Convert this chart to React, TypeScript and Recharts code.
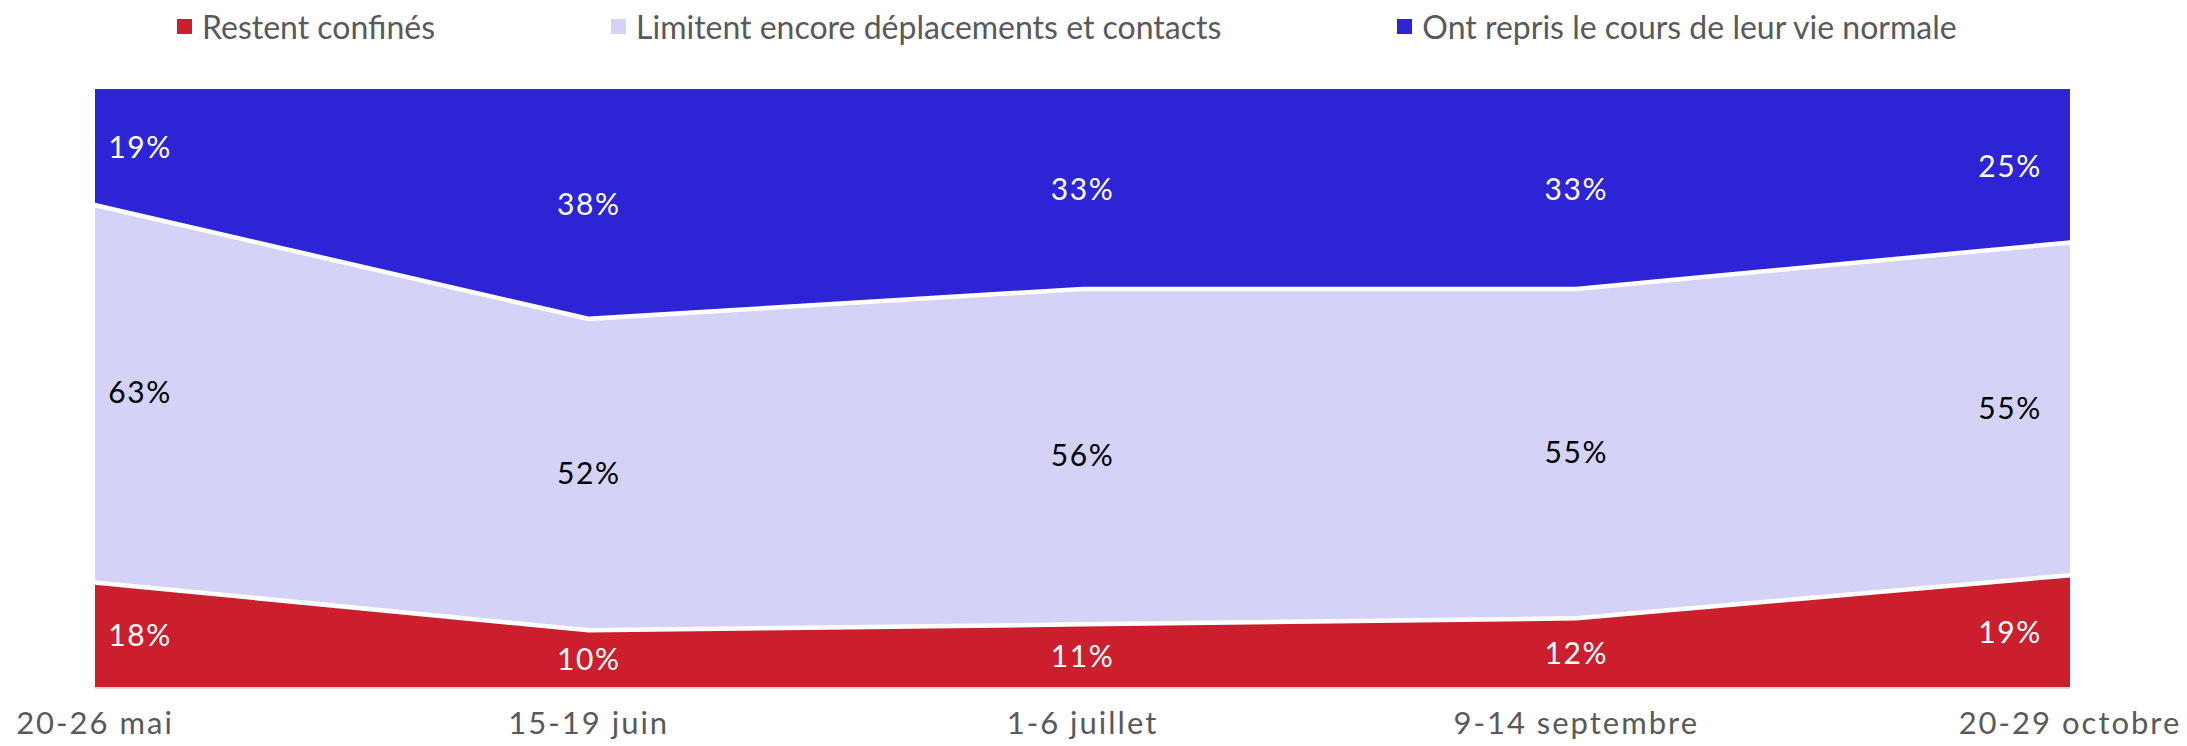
import React from 'react'
import { AreaChart, Area, XAxis, YAxis, LabelList } from 'recharts'

const periods = ['20-26 mai', '15-19 juin', '1-6 juillet', '9-14 septembre', '20-29 octobre']
const confines = [18, 10, 11, 12, 19]
const limitent = [63, 52, 56, 55, 55]
const reprise = [19, 38, 33, 33, 25]

const seriesNames = ['Restent confinés', 'Limitent encore déplacements et contacts', 'Ont repris le cours de leur vie normale']
const COLORS = ['#CC1F2E', '#D4D3F7', '#2D24D6']
const LABEL_COLORS = ['#FFFFFF', '#000000', '#FFFFFF']

const W = 2187
const H = 746
const MARGIN = { top: 89, right: 117, bottom: 8, left: 95 }
const XAXIS_H = 50
const PLOT_H = H - MARGIN.top - MARGIN.bottom - XAXIS_H
const FONT = 'Lato, "Noto Sans", sans-serif'

const data = periods.map((p, i) => ({
	period: p,
	confines: confines[i],
	limitent: limitent[i],
	reprise: reprise[i],
}))

const totals = periods.map((_, i) => confines[i] + limitent[i] + reprise[i])

const makeLabel = (values: number[], color: string) => (props: any) => {
	const { x, y, index } = props
	const segH = (values[index] / totals[index]) * PLOT_H
	let dx = 0
	if (index === 0) dx = 45
	if (index === values.length - 1) dx = -60
	return (
		<text
			x={x + dx}
			y={y + segH / 2}
			fill={color}
			fontSize={30}
			letterSpacing={1.5}
			fontFamily={FONT}
			textAnchor="middle"
			dominantBaseline="central"
		>
			{values[index]}%
		</text>
	)
}

const Legend: React.FC = () => (
	<div
		style={{
			position: 'absolute',
			top: 7,
			left: 177,
			display: 'flex',
			gap: 176,
			fontFamily: FONT,
			fontSize: 32,
			color: '#595959',
			whiteSpace: 'nowrap',
		}}
	>
		{seriesNames.map((name, i) => (
			<div key={name} style={{ display: 'flex', alignItems: 'center' }}>
				<span style={{ width: 15, height: 15, background: COLORS[i], marginRight: 10, display: 'inline-block' }} />
				{name}
			</div>
		))}
	</div>
)

const App: React.FC = () => {
	return (
		<div style={{ position: 'absolute', left: 0, top: 0, width: W, height: H }}>
			<Legend />
			<AreaChart width={W} height={H} data={data} margin={MARGIN} stackOffset="expand">
				<XAxis
					dataKey="period"
					height={XAXIS_H}
					tickLine={false}
					tickMargin={18}
					axisLine={{ stroke: '#D9D9D9', strokeWidth: 2 }}
					tick={{ fill: '#595959', fontSize: 31, fontFamily: FONT, letterSpacing: 2 }}
					interval={0}
					padding={{ left: 0, right: 0 }}
				/>
				<YAxis hide domain={[0, 1]} />
				<Area type="linear" dataKey="confines" stackId="1" fill={COLORS[0]} fillOpacity={1} stroke="#FFFFFF" strokeWidth={9} isAnimationActive={false}>
					<LabelList dataKey="confines" content={makeLabel(confines, LABEL_COLORS[0])} />
				</Area>
				<Area type="linear" dataKey="limitent" stackId="1" fill={COLORS[1]} fillOpacity={1} stroke="#FFFFFF" strokeWidth={9} isAnimationActive={false}>
					<LabelList dataKey="limitent" content={makeLabel(limitent, LABEL_COLORS[1])} />
				</Area>
				<Area type="linear" dataKey="reprise" stackId="1" fill={COLORS[2]} fillOpacity={1} stroke="none" isAnimationActive={false}>
					<LabelList dataKey="reprise" content={makeLabel(reprise, LABEL_COLORS[2])} />
				</Area>
			</AreaChart>
		</div>
	)
}

export default App
